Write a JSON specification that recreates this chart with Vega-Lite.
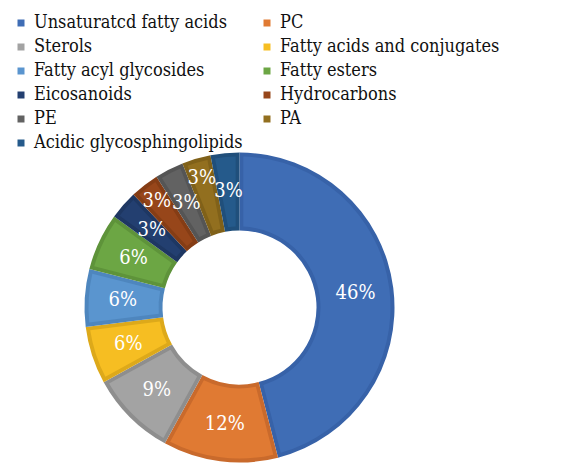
{
  "$schema": "https://vega.github.io/schema/vega-lite/v6.json",
  "width": 311,
  "height": 311,
  "autosize": {"type": "none"},
  "padding": {"left": 84, "top": 152, "right": 174, "bottom": 7},
  "background": "white",
  "config": {"view": {"stroke": null}, "font": "DejaVu Serif Condensed"},
  "data": {
    "values": [
      {"idx": 1, "category": "Unsaturatcd fatty acids", "share": 0.46},
      {"idx": 2, "category": "PC", "share": 0.12},
      {"idx": 3, "category": "Sterols", "share": 0.09},
      {"idx": 4, "category": "Fatty acids and conjugates", "share": 0.06},
      {"idx": 5, "category": "Fatty acyl glycosides", "share": 0.06},
      {"idx": 6, "category": "Fatty esters", "share": 0.06},
      {"idx": 7, "category": "Eicosanoids", "share": 0.03},
      {"idx": 8, "category": "Hydrocarbons", "share": 0.03},
      {"idx": 9, "category": "PE", "share": 0.03},
      {"idx": 10, "category": "PA", "share": 0.03},
      {"idx": 11, "category": "Acidic glycosphingolipids", "share": 0.03}
    ]
  },
  "encoding": {
    "theta": {"field": "share", "type": "quantitative", "stack": true},
    "order": {"field": "idx", "type": "quantitative"}
  },
  "layer": [
    {
      "mark": {"type": "arc", "outerRadius": 155, "innerRadius": 77},
      "encoding": {
        "color": {
          "field": "category",
          "type": "nominal",
          "legend": null,
          "scale": {
            "domain": ["Unsaturatcd fatty acids", "PC", "Sterols", "Fatty acids and conjugates", "Fatty acyl glycosides", "Fatty esters", "Eicosanoids", "Hydrocarbons", "PE", "PA", "Acidic glycosphingolipids"],
            "range": ["#3762a8", "#c96a2c", "#8e8e8e", "#dda91a", "#4e86be", "#5e933a", "#1e3762", "#853d15", "#555555", "#806119", "#204f7b"]
          }
        }
      }
    },
    {
      "mark": {"type": "arc", "outerRadius": 151, "innerRadius": 81, "padAngle": 0.045},
      "encoding": {
        "color": {
          "field": "category",
          "type": "nominal",
          "scale": {
            "domain": ["Unsaturatcd fatty acids", "PC", "Sterols", "Fatty acids and conjugates", "Fatty acyl glycosides", "Fatty esters", "Eicosanoids", "Hydrocarbons", "PE", "PA", "Acidic glycosphingolipids"],
            "range": ["#3f6db5", "#e07a33", "#a3a3a3", "#f6be22", "#5a95cf", "#6ca644", "#233f70", "#97461a", "#626262", "#926f1f", "#255a8b"]
          },
          "legend": {
            "title": null,
            "orient": "none",
            "legendX": -72,
            "legendY": -138,
            "columns": 2,
            "columnPadding": 15,
            "rowPadding": 6,
            "padding": 0,
            "values": ["Unsaturatcd fatty acids", "Sterols", "Fatty acyl glycosides", "Eicosanoids", "PE", "Acidic glycosphingolipids", "PC", "Fatty acids and conjugates", "Fatty esters", "Hydrocarbons", "PA"],
            "symbolType": "square",
            "symbolSize": 49,
            "symbolStrokeWidth": 0,
            "labelFont": "DejaVu Serif Condensed",
            "labelFontSize": 18,
            "labelColor": "#111111",
            "labelOffset": 4,
            "labelLimit": 400
          }
        }
      }
    },
    {
      "mark": {
        "type": "text",
        "radius": {"expr": "datum.category === 'Hydrocarbons' || datum.category === 'PA' ? 135 : 117"},
        "font": "DejaVu Serif Condensed",
        "fontSize": 20,
        "color": "white"
      },
      "encoding": {
        "text": {"field": "share", "type": "quantitative", "format": ".0%"}
      }
    }
  ],
  "resolve": {"scale": {"color": "independent"}}
}
